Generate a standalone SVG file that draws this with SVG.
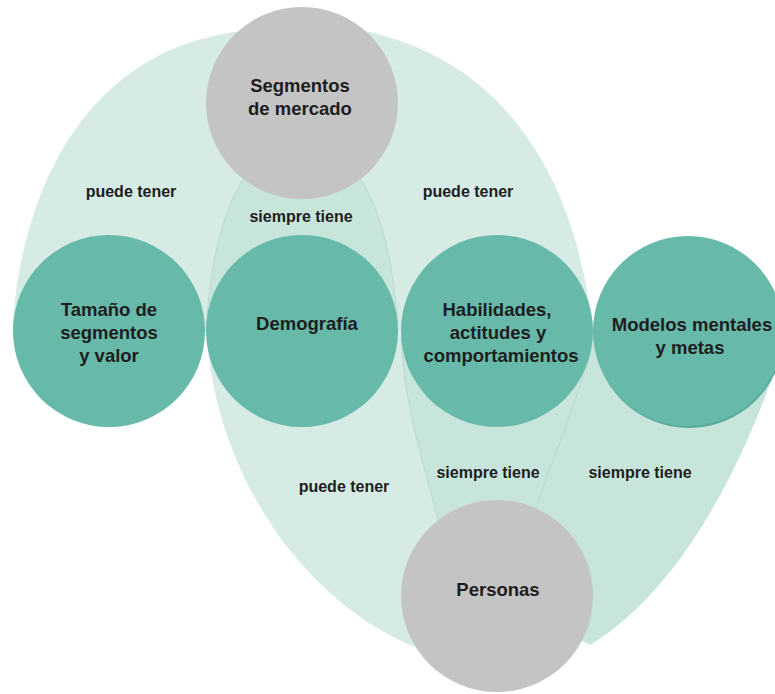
<svg xmlns="http://www.w3.org/2000/svg" width="775" height="694" viewBox="0 0 775 694">
<style>
.light{fill:#d5ebe4;}
.dark{fill:#c8e5db;stroke:#b3d6ca;stroke-width:0.8;}
.teal{fill:#67b9a9;}
.gray{fill:#c4c4c4;}
.node{font-family:"Liberation Sans",Arial,sans-serif;font-weight:bold;font-size:18.5px;fill:#1e1e1e;text-anchor:middle;}
.lbl{font-family:"Liberation Sans",Arial,sans-serif;font-weight:bold;font-size:16px;fill:#1e1e1e;text-anchor:middle;}
</style>
<rect width="775" height="694" fill="#ffffff"/>
<g id="connectors">
  <g id="e-seg-tam">
    <path class="light" d="M255 30 C100 40 25 170 13 320 L13 331 L302 331 L302 103 Z"/>
  </g>
  <g id="e-seg-hab">
    <path class="light" d="M350 28 C480 50 572 145 593 331 L302 331 L302 103 Z"/>
  </g>
  <g id="e-dem-per">
    <path class="light" d="M207 335 C215 470 300 600 415 647 L497 596 L460 520 L420 400 L399 331 L302 331 Z"/>
  </g>
  <g id="e-mod-per">
    <path class="dark" style="stroke:none" d="M497 331 L775 331 L775 370 C740 470 680 590 590 645 L497 596 Z"/>
  </g>
  <g id="e-seg-dem">
    <path class="dark" d="M250 170 C225 200 210 260 206 331 L398 331 C394 260 379 200 354 170 Z"/>
  </g>
  <g id="e-hab-per">
    <path class="dark" d="M401 331 L593 331 C585 390 550 460 536 510 L497 596 L438 520 C420 450 403 400 401 331 Z"/>
  </g>
  <text class="lbl" x="131" y="197">puede tener</text>
  <text class="lbl" x="301" y="222">siempre tiene</text>
  <text class="lbl" x="468" y="197">puede tener</text>
  <text class="lbl" x="344" y="492">puede tener</text>
  <text class="lbl" x="488" y="478">siempre tiene</text>
  <text class="lbl" x="640" y="478">siempre tiene</text>
</g>
<g id="n-segmentos">
  <circle class="gray" cx="302" cy="103" r="96"/>
  <text class="node" x="300" y="92">Segmentos</text>
  <text class="node" x="300" y="115">de mercado</text>
</g>
<g id="n-tamano">
  <circle class="teal" cx="109" cy="331" r="96"/>
  <text class="node" x="109" y="316">Tamaño de</text>
  <text class="node" x="109" y="339">segmentos</text>
  <text class="node" x="109" y="362">y valor</text>
</g>
<g id="n-demografia">
  <circle class="teal" cx="302" cy="331" r="96"/>
  <text class="node" x="307" y="330">Demografía</text>
</g>
<g id="n-habilidades">
  <circle class="teal" cx="497" cy="331" r="96"/>
  <text class="node" x="497" y="316">Habilidades,</text>
  <text class="node" x="498" y="339">actitudes y</text>
  <text class="node" x="501" y="362">comportamientos</text>
</g>
<g id="n-modelos">
  <circle cx="689" cy="333" r="95" fill="#5aab9b"/>
  <circle class="teal" cx="688" cy="331" r="95"/>
  <text class="node" x="692" y="331">Modelos mentales</text>
  <text class="node" x="690" y="354">y metas</text>
</g>
<g id="n-personas">
  <circle class="gray" cx="497" cy="596" r="96"/>
  <text class="node" x="498" y="596">Personas</text>
</g>
</svg>
